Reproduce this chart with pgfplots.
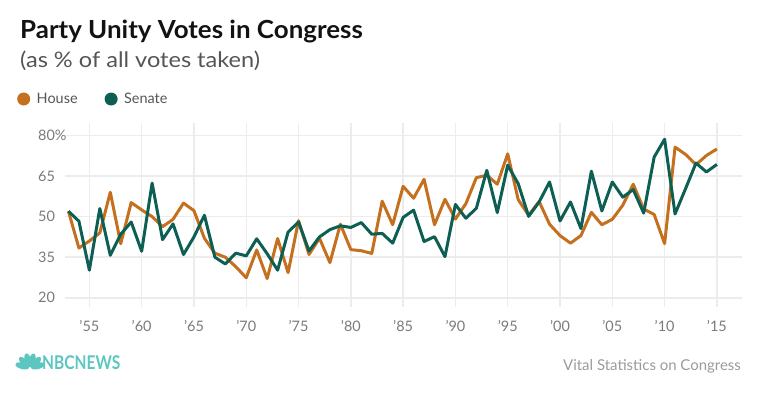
\documentclass[border=0pt]{standalone}
\usepackage{fontspec}
\setmainfont{Lato}
\usepackage{pgfplots}
\pgfplotsset{compat=1.18}
\definecolor{house}{HTML}{C4701F}
\definecolor{senate}{HTML}{0E5F53}
\definecolor{gridc}{HTML}{ECECEC}
\definecolor{tickc}{HTML}{7A7A7A}
\definecolor{subc}{HTML}{555555}
\definecolor{nbc}{HTML}{5CC6C0}
\definecolor{srcc}{HTML}{9A9A9A}

\pgfplotstableread{
year house
1953 52
1954 38.4
1955 41
1956 44
1957 59
1958 40
1959 55.2
1960 52.5
1961 50
1962 46.3
1963 49
1964 55
1965 52.2
1966 42
1967 36.5
1968 35
1969 31.5
1970 27.4
1971 37.7
1972 27.1
1973 41.9
1974 29.3
1975 48.5
1976 36
1977 42
1978 33
1979 47.2
1980 37.8
1981 37.4
1982 36.4
1983 55.7
1984 47
1985 61.2
1986 56.8
1987 63.8
1988 47
1989 56.4
1990 49.1
1991 54.8
1992 64.4
1993 65.3
1994 62
1995 73.2
1996 56.3
1997 50.5
1998 55.6
1999 47.2
2000 43
2001 40.2
2002 43
2003 51.6
2004 47
2005 49
2006 54.2
2007 62
2008 52.8
2009 50.8
2010 40
2011 75.7
2012 73
2013 69.2
2014 72.6
2015 75
}\housetable

\pgfplotstableread{
year senate
1953 52
1954 48.3
1955 30.2
1956 53
1957 35.7
1958 43.5
1959 48
1960 37.2
1961 62.4
1962 41.5
1963 47.3
1964 36
1965 42.5
1966 50.5
1967 35
1968 32.5
1969 36.5
1970 35.5
1971 41.8
1972 36.3
1973 30.2
1974 44.3
1975 48
1976 37.3
1977 42.5
1978 45.2
1979 46.6
1980 46
1981 47.8
1982 43.5
1983 43.8
1984 40.2
1985 49.7
1986 52.4
1987 40.8
1988 42.6
1989 35.2
1990 54.5
1991 49.4
1992 53.1
1993 67.1
1994 51.5
1995 69
1996 62.2
1997 50.1
1998 55.4
1999 62.8
2000 48.4
2001 55.4
2002 45.6
2003 66.8
2004 52.1
2005 62.8
2006 57.2
2007 60
2008 51.3
2009 72
2010 78.6
2011 51
2012 60.3
2013 69.8
2014 66.5
2015 69.3
}\senatetable

\begin{document}
\begin{tikzpicture}
\useasboundingbox (0,0) rectangle (760bp,-399bp);
\begin{axis}[
  at={(65bp,-307bp)}, anchor=south west,
  scale only axis, width=677bp, height=184bp,
  xmin=1952.67, xmax=2017.4, ymin=16.6, ymax=84.6,
  xtick={1955,1960,...,2015},
  xticklabels={'55,'60,'65,'70,'75,'80,'85,'90,'95,'00,'05,'10,'15},
  ytick={20,35,50,65,80},
  yticklabels={20,35,50,65,80\%},
  grid=major, major grid style={gridc, line width=1.5bp},
  axis line style={draw=none}, major tick length=0pt,
  tick label style={font=\fontsize{14.5}{16}\selectfont, text=tickc},
  xticklabel style={anchor=base, yshift=-24bp},
  yticklabel style={anchor=west, xshift=-27bp, inner sep=0pt},
  legend columns=2,
  legend style={draw=none, fill=none, inner sep=0pt,
    at={(-0.0709,1.1304)}, anchor=west,
    font=\fontsize{14.5}{16}\selectfont, text=subc,
    nodes={inner sep=0pt},
    column sep=6.5bp,
    /tikz/every even column/.append style={column sep=27bp}},
  legend image code/.code={\fill[#1, draw=none] (6.5bp,0bp) circle (6.5bp);},
]
\addplot[house, line width=3bp, line join=round] table[x=year, y=house] {\housetable};
\addlegendentry{House}
\addplot[senate, line width=3bp, line join=round] table[x=year, y=senate] {\senatetable};
\addlegendentry{Senate}
\end{axis}
\node[anchor=base west, inner sep=0pt, font=\fontsize{25}{28}\selectfont\bfseries, text=black!93] at (20bp,-38bp) {\scalebox{1.04}[1]{Party Unity Votes in Congress}};
\node[anchor=base west, inner sep=0pt, font=\fontsize{21.5}{24}\selectfont, text=subc] at (20bp,-67bp) {\scalebox{1.1}[1]{(as \% of all votes taken)}};
% NBC logo (peacock fan + wordmark)
\begin{scope}[shift={(30bp,-368bp)}]
  \foreach \a in {15,45,75,105,135,165}{
    \fill[nbc, rotate=\a] (8bp,0) ellipse (7bp and 3.2bp);
  }
\end{scope}
\node[anchor=base west, inner sep=0pt, text=nbc, font=\fontsize{19}{22}\selectfont\bfseries] at (42bp,-369bp) {\scalebox{0.82}[1]{NBCNEWS}};
\node[anchor=base east, inner sep=0pt, text=srcc, font=\fontsize{15}{18}\selectfont] at (741bp,-370bp) {Vital Statistics on Congress};
\end{tikzpicture}
\end{document}
